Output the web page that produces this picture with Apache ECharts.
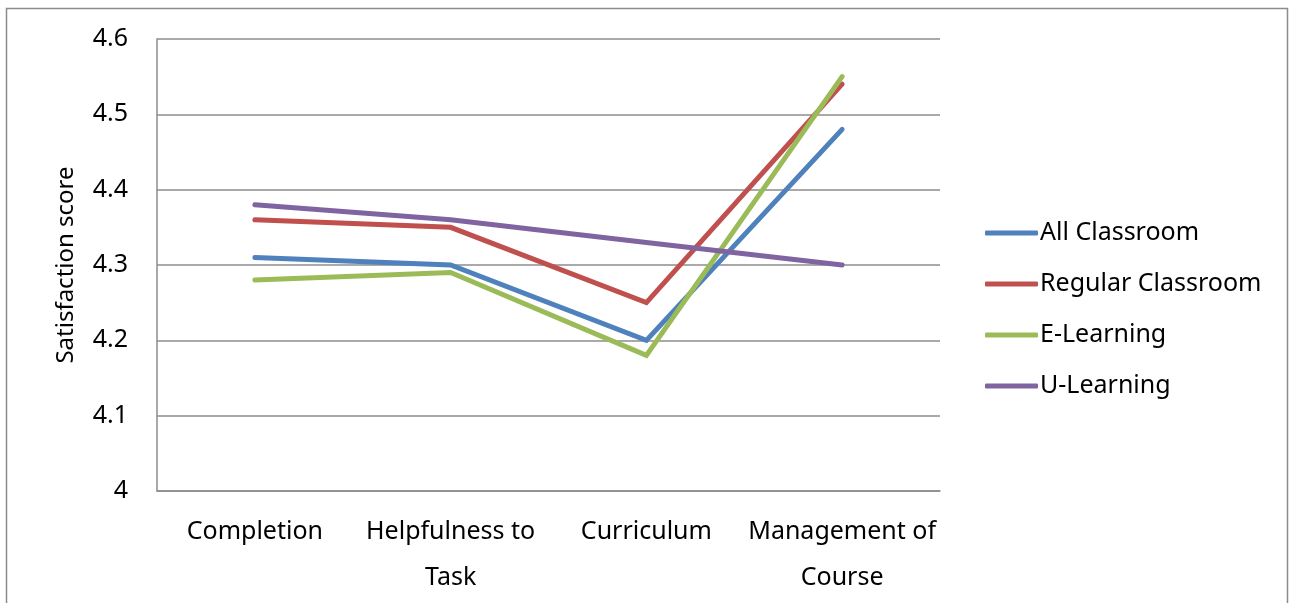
<!DOCTYPE html>
<html>
<head>
<meta charset="utf-8">
<script src="https://cdn.jsdelivr.net/npm/echarts@6/dist/echarts.min.js"></script>
<style>
  html, body { margin: 0; padding: 0; background: #fff; }
  #chart { width: 1292px; height: 603px; }
</style>
</head>
<body>
<div id="chart"></div>
<script>
// Satisfaction scores by survey item and learning mode
const categories = ['Completion', 'Helpfulness to\nTask', 'Curriculum', 'Management of\nCourse'];
const allClassroom = [4.31, 4.30, 4.20, 4.48];
const regularClassroom = [4.36, 4.35, 4.25, 4.54];
const eLearning = [4.28, 4.29, 4.18, 4.55];
const uLearning = [4.38, 4.36, 4.33, 4.30];
const seriesNames = ['All Classroom', 'Regular Classroom', 'E-Learning', 'U-Learning'];
const colors = ['#4F81BD', '#C0504D', '#9BBB59', '#8064A2'];

const FONT = '"Noto Sans", "Open Sans", sans-serif';
const chart = echarts.init(document.getElementById('chart'));

function lineSeries(name, data, color) {
  return {
    name: name,
    type: 'line',
    data: data,
    symbol: 'none',
    showSymbol: false,
    lineStyle: { width: 5, color: color, cap: 'round', join: 'miter' },
    itemStyle: { color: color },
    animation: false
  };
}

chart.setOption({
  animation: false,
  backgroundColor: '#fff',
  graphic: [{
    type: 'rect',
    shape: { x: 6.5, y: 8.5, width: 1281, height: 620 },
    style: { fill: 'none', stroke: '#8c8c8c', lineWidth: 1.5 },
    silent: true
  }],
  grid: { left: 157, right: 352, top: 39, bottom: 112, containLabel: false, outerBoundsMode: 'none' },
  legend: {
    orient: 'vertical',
    left: 980,
    top: 215,
    itemWidth: 53,
    itemHeight: 5,
    itemGap: 25,
    icon: 'roundRect',
    data: seriesNames,
    textStyle: { fontFamily: FONT, fontSize: 25, color: '#000', lineHeight: 26, padding: [0, 0, 0, -3] }
  },
  xAxis: {
    type: 'category',
    data: categories,
    boundaryGap: true,
    axisLine: { show: true, lineStyle: { color: '#8c8c8c', width: 1.5 } },
    axisTick: { show: false },
    axisLabel: {
      fontFamily: FONT, fontSize: 25, color: '#000',
      margin: 18, lineHeight: 46, interval: 0
    }
  },
  yAxis: {
    type: 'value',
    min: 4,
    max: 4.6,
    interval: 0.1,
    name: 'Satisfaction score',
    nameLocation: 'middle',
    nameGap: 79,
    nameTextStyle: { fontFamily: FONT, fontSize: 24, color: '#000' },
    axisLine: { show: true, lineStyle: { color: '#8c8c8c', width: 1.5 } },
    axisTick: { show: false },
    splitLine: { show: true, lineStyle: { color: '#8c8c8c', width: 1.5 } },
    axisLabel: {
      fontFamily: FONT, fontSize: 25, color: '#000', margin: 29,
      formatter: v => String(Math.round(v * 10) / 10)
    }
  },
  series: [
    lineSeries(seriesNames[0], allClassroom, colors[0]),
    lineSeries(seriesNames[1], regularClassroom, colors[1]),
    lineSeries(seriesNames[2], eLearning, colors[2]),
    lineSeries(seriesNames[3], uLearning, colors[3])
  ]
});
</script>
</body>
</html>
